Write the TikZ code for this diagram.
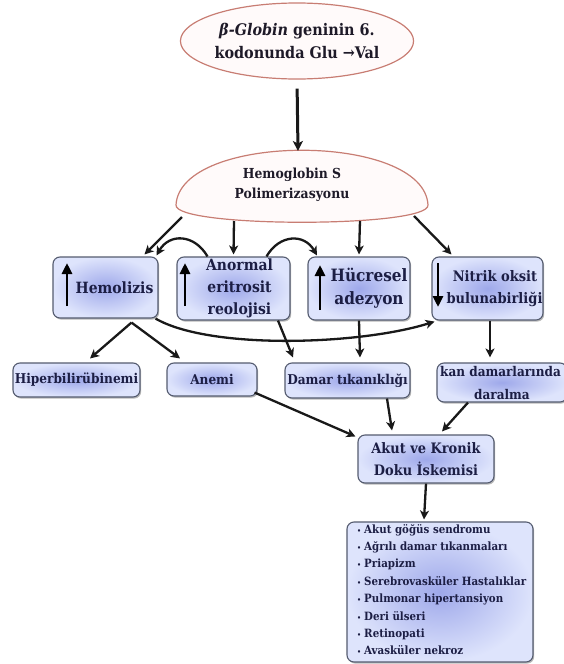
\documentclass[tikz,border=0pt]{standalone}
\usepackage{fontspec}
\setmainfont{DejaVu Serif Condensed}
\usetikzlibrary{shapes.geometric,arrows.meta,shadows,calc}
\definecolor{boxin}{RGB}{158,168,234}
\definecolor{boxout}{RGB}{222,228,252}
\definecolor{boxline}{RGB}{85,92,112}
\definecolor{txt}{RGB}{28,30,68}
\definecolor{etxt}{RGB}{30,26,40}
\definecolor{ellline}{RGB}{200,125,115}
\definecolor{ellfill}{RGB}{255,250,250}
\definecolor{arr}{RGB}{25,25,25}
\begin{document}
\begin{tikzpicture}[x=1pt,y=1pt,
  bluebox/.style={rectangle, rounded corners=7pt, draw=boxline, line width=1.1pt,
    inner color=boxin, outer color=boxout,
    drop shadow={shadow xshift=1.2pt, shadow yshift=-1.6pt, opacity=0.55},
    text=txt, align=center, inner sep=0pt},
  conn/.style={draw=arr, line width=2.3pt, -{Stealth[length=9pt,width=9pt,inset=2.5pt]}},
  mainconn/.style={draw=arr, line width=3pt, -{Stealth[length=10pt,width=10pt,inset=2.5pt]}},
  bigarrow/.style={draw=black, line width=2.8pt, -{Triangle[length=11pt,width=10pt]}},
  fA/.style={font=\fontsize{16}{23}\selectfont\bfseries},
  fB/.style={font=\fontsize{13.8}{20}\selectfont\bfseries},
  fC/.style={font=\fontsize{15.5}{22}\selectfont\bfseries},
  fG/.style={font=\fontsize{17}{23}\selectfont\bfseries},
  fH/.style={font=\fontsize{14.5}{22}\selectfont\bfseries},
  fI/.style={font=\fontsize{14.4}{22}\selectfont\bfseries},
  fD/.style={font=\fontsize{13.5}{20}\selectfont\bfseries},
  fE/.style={font=\fontsize{13.4}{23}\selectfont\bfseries},
  fF/.style={font=\fontsize{11.4}{17}\selectfont\bfseries},
]
\useasboundingbox (0,0) rectangle (563,-664);
\fill[white] (0,0) rectangle (563,-664);

% top ellipse
\node[ellipse, draw=ellline, line width=1.2pt, fill=ellfill, minimum width=225pt,
  minimum height=76pt, inner sep=0pt, text=etxt, align=center, fA] (top) at (297,-41)
  {\textit{β-Globin} geninin 6.\\kodonunda Glu →Val};

% HbS polymerisation shape
\draw[ellline, line width=1.2pt, fill=ellfill]
  (176,-205) .. controls (180,-132) and (424,-132) .. (428,-205)
  .. controls (430,-228) and (174,-228) .. (176,-205) -- cycle;
\node[fB, text=etxt, align=center] (hbs) at (292,-185) {Hemoglobin S\\Polimerizasyonu};
\coordinate (hbsT) at (298,-151);
\coordinate (hbsA) at (182,-217);
\coordinate (hbsB) at (234,-221);
\coordinate (hbsC) at (360,-221);
\coordinate (hbsD) at (414,-216);

% first row
\node[bluebox, fC, minimum width=105pt, minimum height=61pt] (hemo) at (105.5,-287.5) {\hspace*{18pt}Hemolizis};
\node[bluebox, fC, minimum width=113pt, minimum height=63pt] (anorm) at (233.5,-288.5) {\hspace*{12pt}Anormal\\\hspace*{12pt}eritrosit\\\hspace*{12pt}reolojisi};
\node[bluebox, fG, minimum width=102pt, minimum height=63pt] (hucre) at (359,-288.5) {\hspace*{20pt}Hücresel\\\hspace*{20pt}adezyon};
\node[bluebox, fH, minimum width=111pt, minimum height=63pt] (nitrik) at (487.5,-288.5) {\hspace*{15pt}Nitrik oksit\\\hspace*{14pt}bulunabirliği};

% arrows inside boxes
\draw[bigarrow] (67,-306) -- (67,-263);
\draw[bigarrow] (185,-306) -- (185,-263);
\draw[bigarrow] (320,-310) -- (320,-265);
\draw[bigarrow] (438,-263) -- (438,-307);

% second row
\node[bluebox, fD, minimum width=127pt, minimum height=34pt] (hiper) at (76.5,-380) {Hiperbilirübinemi};
\node[bluebox, fD, minimum width=90pt, minimum height=33pt] (anemi) at (212,-379.5) {Anemi};
\node[bluebox, fD, minimum width=125pt, minimum height=35pt] (damar) at (347.5,-380.5) {Damar tıkanıklığı};
\node[bluebox, fE, minimum width=130pt, minimum height=39pt] (kan) at (502,-382.5) {\hspace*{-3pt}kan damarlarında\\daralma};

% ischemia
\node[bluebox, fI, minimum width=136pt, minimum height=48pt] (akut) at (426,-459) {Akut ve Kronik\\Doku İskemisi};

% list box
\node[bluebox, minimum width=186pt, minimum height=140pt] (list) at (440,-592) {};
\foreach \t [count=\k from 0] in {Akut göğüs sendromu, Ağrılı damar tıkanmaları, Priapizm,
  Serebrovasküler Hastalıklar, Pulmonar hipertansiyon, Deri ülseri, Retinopati, Avasküler nekroz}
  \node[fF, text=txt, anchor=base west, inner sep=0pt] (item\k) at (357,{-533-17.4*\k})
    {{\fontsize{7}{7}\selectfont •}\hspace{3pt}\t};

% connectors
\draw[mainconn, shorten <=9pt] (top.south) -- (hbsT);
\draw[conn] (hbsA) -- ([xshift=39pt,yshift=2pt]hemo.north);
\draw[conn] (hbsB) -- ([yshift=2pt]anorm.north);
\draw[conn] (hbsC) -- ([yshift=2pt]hucre.north);
\draw[conn] (hbsD) -- ([xshift=-36pt,yshift=2pt]nitrik.north);
\draw[conn] ([xshift=-26pt]anorm.north) to[out=120,in=60,looseness=1.3] ([xshift=51pt,yshift=1pt]hemo.north);
\draw[conn] ([xshift=33pt]anorm.north) to[out=60,in=120,looseness=1.3] ([xshift=-42pt,yshift=1pt]hucre.north);
\draw[conn] ([xshift=26pt,yshift=-4pt]hemo.south) -- ([xshift=13.5pt,yshift=4pt]hiper.north);
\draw[conn] ([xshift=26pt,yshift=-4pt]hemo.south) -- ([xshift=-32pt,yshift=4pt]anemi.north);
\draw[conn] ([xshift=50pt]hemo.south) .. controls (210,-350) and (360,-345) .. ([xshift=-53pt,yshift=-1pt]nitrik.south);
\draw[conn] ([xshift=44.5pt]anorm.south) -- ([xshift=-54.5pt,yshift=5pt]damar.north);
\draw[conn] (hucre.south) -- ([xshift=12.5pt,yshift=5pt]damar.north);
\draw[conn] ([xshift=2.5pt]nitrik.south) -- ([xshift=-12pt,yshift=5pt]kan.north);
\draw[conn] ([xshift=-3pt,yshift=4pt]anemi.south east) -- ([xshift=-2pt,yshift=-2pt]akut.north west);
\draw[conn] ([xshift=39.5pt]damar.south) -- ([xshift=-34pt,yshift=4pt]akut.north);
\draw[conn] ([xshift=-34pt]kan.south) -- ([xshift=16pt,yshift=3pt]akut.north);
\draw[conn] (akut.south) -- ([xshift=-16pt,yshift=2pt]list.north);
\end{tikzpicture}
\end{document}
